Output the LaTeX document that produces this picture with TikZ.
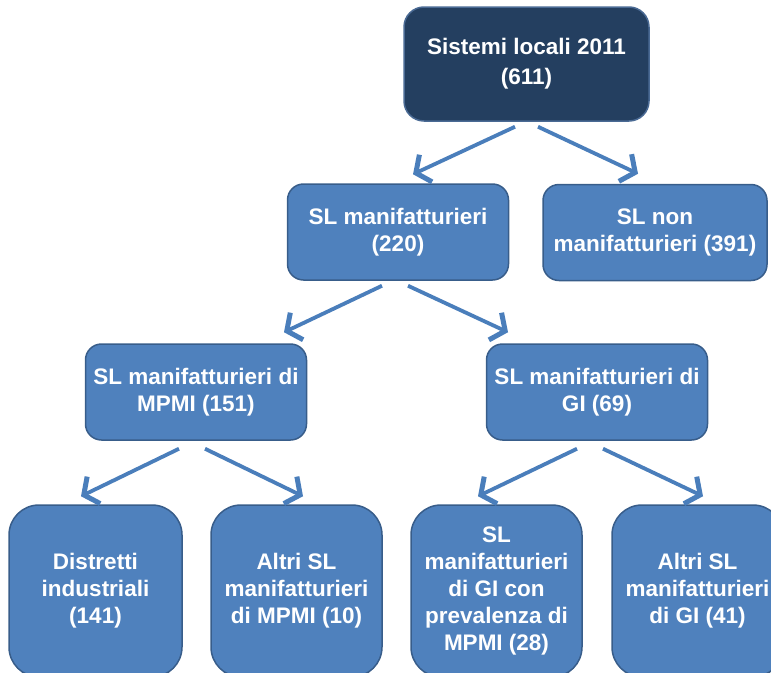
\documentclass[tikz,border=0pt]{standalone}
\usepackage{fontspec}
\setmainfont{Liberation Sans}
\usetikzlibrary{arrows.meta}
\definecolor{boxfill}{HTML}{4F81BD}
\definecolor{boxline}{HTML}{385D8A}
\definecolor{topfill}{HTML}{243F60}
\definecolor{topline}{HTML}{4A6A94}
\definecolor{arrowcol}{HTML}{4A7EBB}
\begin{document}
\begin{tikzpicture}[x=1pt,y=-1pt,
  box/.style={draw=boxline, fill=boxfill, line width=1.5pt, text=white, align=center,
    inner sep=0pt, font=\fontsize{22.5}{27}\selectfont\bfseries},
  midbox/.style={box, rounded corners=16pt, minimum width=221pt, minimum height=96pt},
  lowbox/.style={box, rounded corners=30pt, minimum width=171pt, minimum height=172pt},
  arr/.style={draw=arrowcol, line width=3.8pt, -{Straight Barb[length=11pt,width=30pt,line width=5pt]}}]
\clip (0,0) rectangle (771,672);
\node[box, draw=topline, fill=topfill, rounded corners=20pt, minimum width=245pt, minimum height=114pt,
  font=\fontsize{22.5}{30}\selectfont\bfseries] (1) at (526.5,64) {Sistemi locali 2011\\(611)};
\node[midbox] (2) at (398,232) {SL manifatturieri\\(220)};
\node[midbox, minimum width=224pt] (3) at (655,232.5) {SL non\\manifatturieri (391)};
\node[midbox] (4) at (196,392) {SL manifatturieri di\\MPMI (151)};
\node[midbox] (5) at (597,392) {SL manifatturieri di\\GI (69)};
\node[lowbox, minimum width=173pt] (6) at (95.5,591) {Distretti\\industriali\\(141)};
\node[lowbox] (7) at (296.5,591) {Altri SL\\manifatturieri\\di MPMI (10)};
\node[lowbox] (8) at (496.5,591) {SL\\manifatturieri\\di GI con\\prevalenza di\\MPMI (28)};
\node[lowbox] (9) at (697.5,591) {Altri SL\\manifatturieri\\di GI (41)};

\path[arr] ([xshift=-11.5pt,yshift=-5pt]1.south) -- ([xshift=15pt,yshift=9pt]2.north);
\path[arr] ([xshift=11.5pt,yshift=-5pt]1.south) -- ([xshift=-17pt,yshift=10pt]3.north);
\path[arr] ([xshift=-16pt,yshift=-5pt]2.south) -- ([xshift=88pt,yshift=11pt]4.north);
\path[arr] ([xshift=10pt,yshift=-5pt]2.south) -- ([xshift=-89pt,yshift=11pt]5.north);
\path[arr] ([xshift=-17pt,yshift=-8pt]4.south) -- ([xshift=-14.5pt,yshift=8pt]6.north);
\path[arr] ([xshift=9pt,yshift=-8pt]4.south) -- ([xshift=6.5pt,yshift=8pt]7.north);
\path[arr] ([xshift=-20pt,yshift=-8pt]5.south) -- ([xshift=-18.5pt,yshift=8pt]8.north);
\path[arr] ([xshift=6pt,yshift=-8pt]5.south) -- ([xshift=5.5pt,yshift=8pt]9.north);
\end{tikzpicture}
\end{document}
